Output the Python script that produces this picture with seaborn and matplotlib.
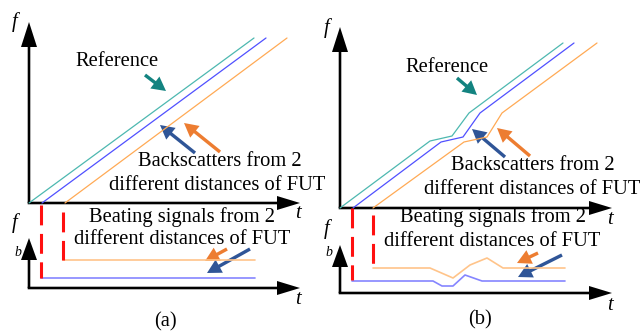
import matplotlib
matplotlib.use('Agg')
import matplotlib.pyplot as plt
import seaborn as sns

# ----------------------------
# Schematic data (canvas units, y grows downward)
# ----------------------------
# panel (a), sweep lines
ref_a_t = [29, 254]
ref_a_f = [203, 38]
bs1_a_t = [42, 266]
bs1_a_f = [203, 38]
bs2_a_t = [65, 287]
bs2_a_f = [203, 38]

# panel (a), beat signals
beat1_a_t = [41, 255]
beat1_a_f = [278, 278]
beat2_a_t = [63, 255]
beat2_a_f = [260, 260]
delay_a_t = [41, 63]
delay_a_top = [205, 212]
delay_a_bot = [278, 260]

# panel (b), sweep lines with a nonlinear bump
ref_b_t = [340, 430, 452, 469, 563]
ref_b_f = [208, 141, 136, 113, 43]
bs1_b_t = [353, 441, 463, 480, 574]
bs1_b_f = [208, 142, 137, 113, 43]
bs2_b_t = [373, 464, 487, 502, 597]
bs2_b_f = [208, 142, 137, 113, 43]

# panel (b), beat signals
beat1_b_t = [352, 433, 442, 453, 465, 482, 565]
beat1_b_f = [281, 281, 286, 286, 275, 281, 281]
beat2_b_t = [373, 430, 453, 470, 487, 503, 565]
beat2_b_f = [268, 268, 278, 265, 258, 268, 268]
delay_b_t = [352, 373]
delay_b_top = [208, 215]
delay_b_bot = [280, 268]

# axes frames: origin x, origin y, y tip, x tip
frames = [
    (29, 203, 22, 300),
    (29, 288, 238, 300),
    (340, 208, 27, 612),
    (340, 293, 245, 612),
]

teal_line, blue_line, orange_line = '#4db8b0', '#5050ff', '#ffaa55'
blue_beat, orange_beat = '#8585ff', '#ffc48a'
teal_arrow, blue_arrow, orange_arrow = '#138380', '#2f5597', '#ed7d31'

sns.set_theme(style='white')
plt.rcParams['font.family'] = ['Liberation Serif', 'DejaVu Serif']

fig = plt.figure(figsize=(6.41, 3.33), dpi=100)
ax = fig.add_axes([0, 0, 1, 1])
ax.set_xlim(0, 641)
ax.set_ylim(333, 0)
ax.axis('off')


def line(t, f, color, lw=0.9, **kw):
    sns.lineplot(x=t, y=f, color=color, lw=lw, sort=False, estimator=None, ax=ax, **kw)


# sweep lines
line(ref_a_t, ref_a_f, teal_line)
line(bs1_a_t, bs1_a_f, blue_line)
line(bs2_a_t, bs2_a_f, orange_line)
line(ref_b_t, ref_b_f, teal_line)
line(bs1_b_t, bs1_b_f, blue_line)
line(bs2_b_t, bs2_b_f, orange_line)

# beat lines
line(beat1_a_t, beat1_a_f, blue_beat, lw=1.2)
line(beat2_a_t, beat2_a_f, orange_beat, lw=1.2)
line(beat1_b_t, beat1_b_f, blue_beat, lw=1.2)
line(beat2_b_t, beat2_b_f, orange_beat, lw=1.2)

# red dashed delay markers
for ts, tops, bots in [(delay_a_t, delay_a_top, delay_a_bot),
                       (delay_b_t, delay_b_top, delay_b_bot)]:
    for t, y0, y1 in zip(ts, tops, bots):
        ax.plot([t, t], [y0, y1], color='#ff1010', lw=2.2,
                linestyle=(0, (6.5, 2.8)), solid_capstyle='butt')

# axes arrows
for x0, y0, ytip, xtip in frames:
    big = y0 - ytip > 100
    hl = 25 if big else 22
    ax.arrow(x0, y0, 0, ytip - y0, width=2.6, head_width=16, head_length=hl,
             length_includes_head=True, color='black', lw=0)
    ax.arrow(x0 - 1.3, y0, xtip - x0 + 1.3, 0, width=2.6, head_width=14, head_length=23,
             length_includes_head=True, color='black', lw=0)

# pointer arrows
pointers = [
    ((145, 75), (166, 91), teal_arrow),
    ((195, 153), (160, 125), blue_arrow),
    ((220, 152), (184, 123), orange_arrow),
    ((227, 249), (205, 261), orange_arrow),
    ((250, 249), (207, 273), blue_arrow),
    ((457, 78), (477, 95), teal_arrow),
    ((505, 157), (472, 129), blue_arrow),
    ((530, 156), (497, 128), orange_arrow),
    ((538, 253), (517, 263), orange_arrow),
    ((562, 255), (518, 277), blue_arrow),
]
for (x0, y0), (x1, y1), c in pointers:
    ax.arrow(x0, y0, x1 - x0, y1 - y0, width=3.4, head_width=15, head_length=14,
             length_includes_head=True, color=c, lw=0)

# text
fs = 14.8
texts = [
    (117, 62, 'Reference'),
    (220, 162, 'Backscatters from 2'),
    (217, 185, 'different distances of FUT'),
    (182, 217, 'Beating signals from 2'),
    (182, 240, 'different distances of FUT'),
    (447, 67, 'Reference'),
    (533, 165, 'Backscatters from 2'),
    (532, 189, 'different distances of FUT'),
    (493, 217, 'Beating signals from 2'),
    (492, 242, 'different distances of FUT'),
    (165, 322, '(a)'),
    (480, 320, '(b)'),
]
for x, y, s in texts:
    ax.text(x, y, s, fontsize=fs, ha='center', va='center', color='black')

italics = [
    (15, 22, 'f', fs), (298, 214, 't', fs), (15, 223, 'f', fs), (18, 252, 'b', 10),
    (298, 299, 't', fs),
    (327, 28, 'f', fs), (610, 220, 't', fs), (327, 229, 'f', fs), (329, 253, 'b', 10),
    (610, 305, 't', fs),
]
for x, y, s, size in italics:
    ax.text(x, y, s, fontsize=size, ha='center', va='center', style='italic', color='black')

fig.savefig('out.png', dpi=100, facecolor='white')
